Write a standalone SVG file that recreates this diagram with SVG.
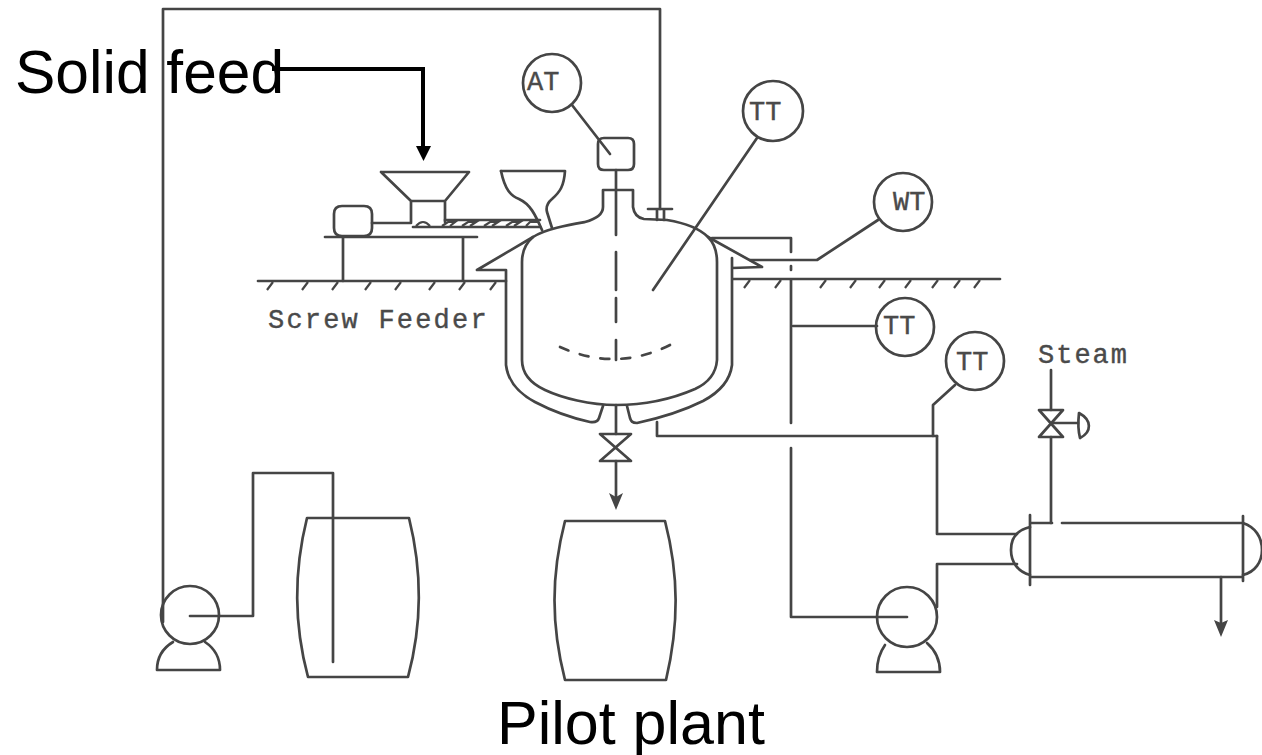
<svg xmlns="http://www.w3.org/2000/svg" width="1262" height="755" viewBox="0 0 1262 755">
<style>
.l{fill:none;stroke:#454545;stroke-width:2.700;stroke-linejoin:round;stroke-linecap:round}
.t{fill:none;stroke:#454545;stroke-width:2.200}
.f{fill:#454545}
.m{font-family:"Liberation Mono",monospace;fill:#4a4a4a;font-size:27px;stroke:#4a4a4a;stroke-width:.4}
.b{font-family:"Liberation Sans",Arial,sans-serif;fill:#000;font-size:61px}
.k{fill:none;stroke:#000;stroke-width:4}
</style>
<rect width="1262" height="755" fill="#fff"/>
<g id="connectors">
<path class="l" d="M163 622V9H660V209"/>
<path class="l" d="M190 616H253V473H333V662"/>
<path class="l" d="M616 170V235"/>
<path class="l" d="M616 252V290M616 298V322M616 340V360"/>
<path class="l" d="M572 105L610 154"/>
<path class="l" d="M757 138L653 290"/>
<path class="l" d="M750 260H817L878 220"/>
<path class="l" d="M712 238H791V252M791 266V270M791 280V423M791 448V617H907"/>
<path class="l" d="M793 326H877"/>
<path class="l" d="M657 422V436H937"/>
<path class="l" d="M955 385L933 405V436M937 436V534H1017"/>
<path class="l" d="M1017 564H937V607"/>
<path class="l" d="M1051 370V410M1051 437V523"/>
<path class="l" d="M1051 423H1078"/>
<path class="l" d="M616 405V434M616 461V500"/>
<path class="f" d="M609 493L616 497L623 493L616 510Z"/>
<path class="l" d="M1221 577V625"/>
<path class="f" d="M1214 620L1221 623L1228 620L1221 637Z"/>
<path class="k" d="M272 69H423V148"/>
<path d="M416 146H431L423.500 161Z" fill="#000"/>
</g>
<g id="floor">
<path class="l" d="M258 281H506M733 279H1000"/>
<path class="t" d="M273 282L267 290M308 282L302 290M338 282L332 290M371 282L365 290M401 282L395 290M435 282L429 290M465 282L459 290M496 282L490 290M750 280L744 288M781 280L775 288M826 280L820 288M856 280L850 288M885 280L879 288M911 280L905 288M938 280L932 288M960 280L954 288M980 280L974 288"/>
</g>
<g id="screw-feeder">
<path class="l" d="M381 172H469L445 201V222M411 222V201L381 172M411 201H445"/>
<path class="l" d="M342 206H364Q372 206 372 214V228Q372 236 364 236H342Q334 236 334 228V214Q334 206 342 206Z"/>
<path class="l" d="M372 223H411"/>
<path class="l" d="M413 227H540M445 220H540"/>
<path class="t" d="M416 226Q423 218 430 226M442 226L448 222H455L450 226M462 226L468 222H476L470 226M484 226L490 222H498L492 226M506 226L512 222H520L514 226M526 226L530 222H538"/>
<path class="l" d="M325 237H477M343 237V281M463 237V281"/>
<path class="l" d="M501 171H565C564 186 560 192 552 199C546 204 546 208 547 212L552 228"/>
<path class="l" d="M501 171C505 190 511 196 519 199C530 204 535 214 542 230"/>
<text class="m" x="268" y="328" letter-spacing="2.200">Screw Feeder</text>
</g>
<g id="reactor">
<path class="l" d="M604 138H628Q634 138 634 144V164Q634 170 628 170H604Q598 170 598 164V144Q598 138 604 138Z"/>
<path class="l" d="M603 207V190H633V207C634 214 638 218 644 219L667 220C685 223 700 229 708 237C714 243 717 252 717 262V360C716 374 708 383 695 389C672 399 645 405 616 405C590 405 562 398 545 390C530 383 522 374 522 360V262C522 250 526 243 533 237C545 229 568 225 585 222C596 219 603 214 603 207Z"/>
<path class="l" d="M648 209H672M657 209V220M664 209V220"/>
<path class="l" d="M533 237L477 270H506M506 270V365C508 381 518 393 535 402C552 411 572 418 590 422C596 423 598 421 599 418L603 406"/>
<path class="l" d="M708 237L762 267L732 268M732 258V365C730 381 720 392 703 401C685 410 660 418 637 423C632 423 631 421 630 418L627 406"/>
<path class="l" d="M560 347Q616 372 670 345" stroke-dasharray="9 12"/>
<path class="l" d="M600 434H631L600 461H631Z"/>
</g>
<g id="AT"><circle class="l" cx="552" cy="83" r="29"/><text class="m" x="527" y="90">AT</text></g>
<g id="TT-vessel"><circle class="l" cx="773" cy="111" r="30"/><text class="m" x="749" y="120">TT</text></g>
<g id="WT"><circle class="l" cx="903" cy="202" r="29"/><text class="m" x="893" y="210">WT</text></g>
<g id="TT-jacket"><circle class="l" cx="905" cy="327" r="29"/><text class="m" x="883" y="334">TT</text></g>
<g id="TT-line"><circle class="l" cx="975" cy="361" r="29"/><text class="m" x="956" y="370">TT</text></g>
<g id="drum-left"><path class="l" d="M307 518H409C422 570 422 625 408 677H308C294 625 294 570 307 518Z"/></g>
<g id="drum-center"><path class="l" d="M565 521H665C679 575 679 625 666 680H565C551 625 551 575 565 521Z"/></g>
<g id="pump-left">
<circle class="l" cx="190" cy="615" r="29"/>
<path class="l" d="M173 642C163 648 157 658 157 670H220C220 658 214 648 205 642"/>
</g>
<g id="pump-right">
<circle class="l" cx="907" cy="617" r="30"/>
<path class="l" d="M885 645C880 652 877 660 877 672H940C940 660 935 650 927 643"/>
</g>
<g id="heat-exchanger">
<path class="l" d="M1030 515V585M1243 516V581M1030 523H1052M1062 523H1243M1030 577H1243"/>
<path class="l" d="M1030 527C1017 530 1011 538 1011 550C1011 562 1018 572 1030 575M1243 523C1255 527 1262 537 1262 550C1262 562 1255 572 1243 575"/>
</g>
<g id="steam-valve">
<text class="m" x="1038" y="363" letter-spacing="2">Steam</text>
<path class="l" d="M1039 410H1063L1039 437H1063Z"/>
<path class="l" d="M1079 413C1092 420 1092 432 1080 438C1078 430 1078 422 1079 413Z"/>
</g>
<g id="labels">
<text class="b" x="15" y="93" style="font-size:60.500px">Solid feed</text>
<text class="b" x="497" y="744">Pilot plant</text>
</g>
</svg>
